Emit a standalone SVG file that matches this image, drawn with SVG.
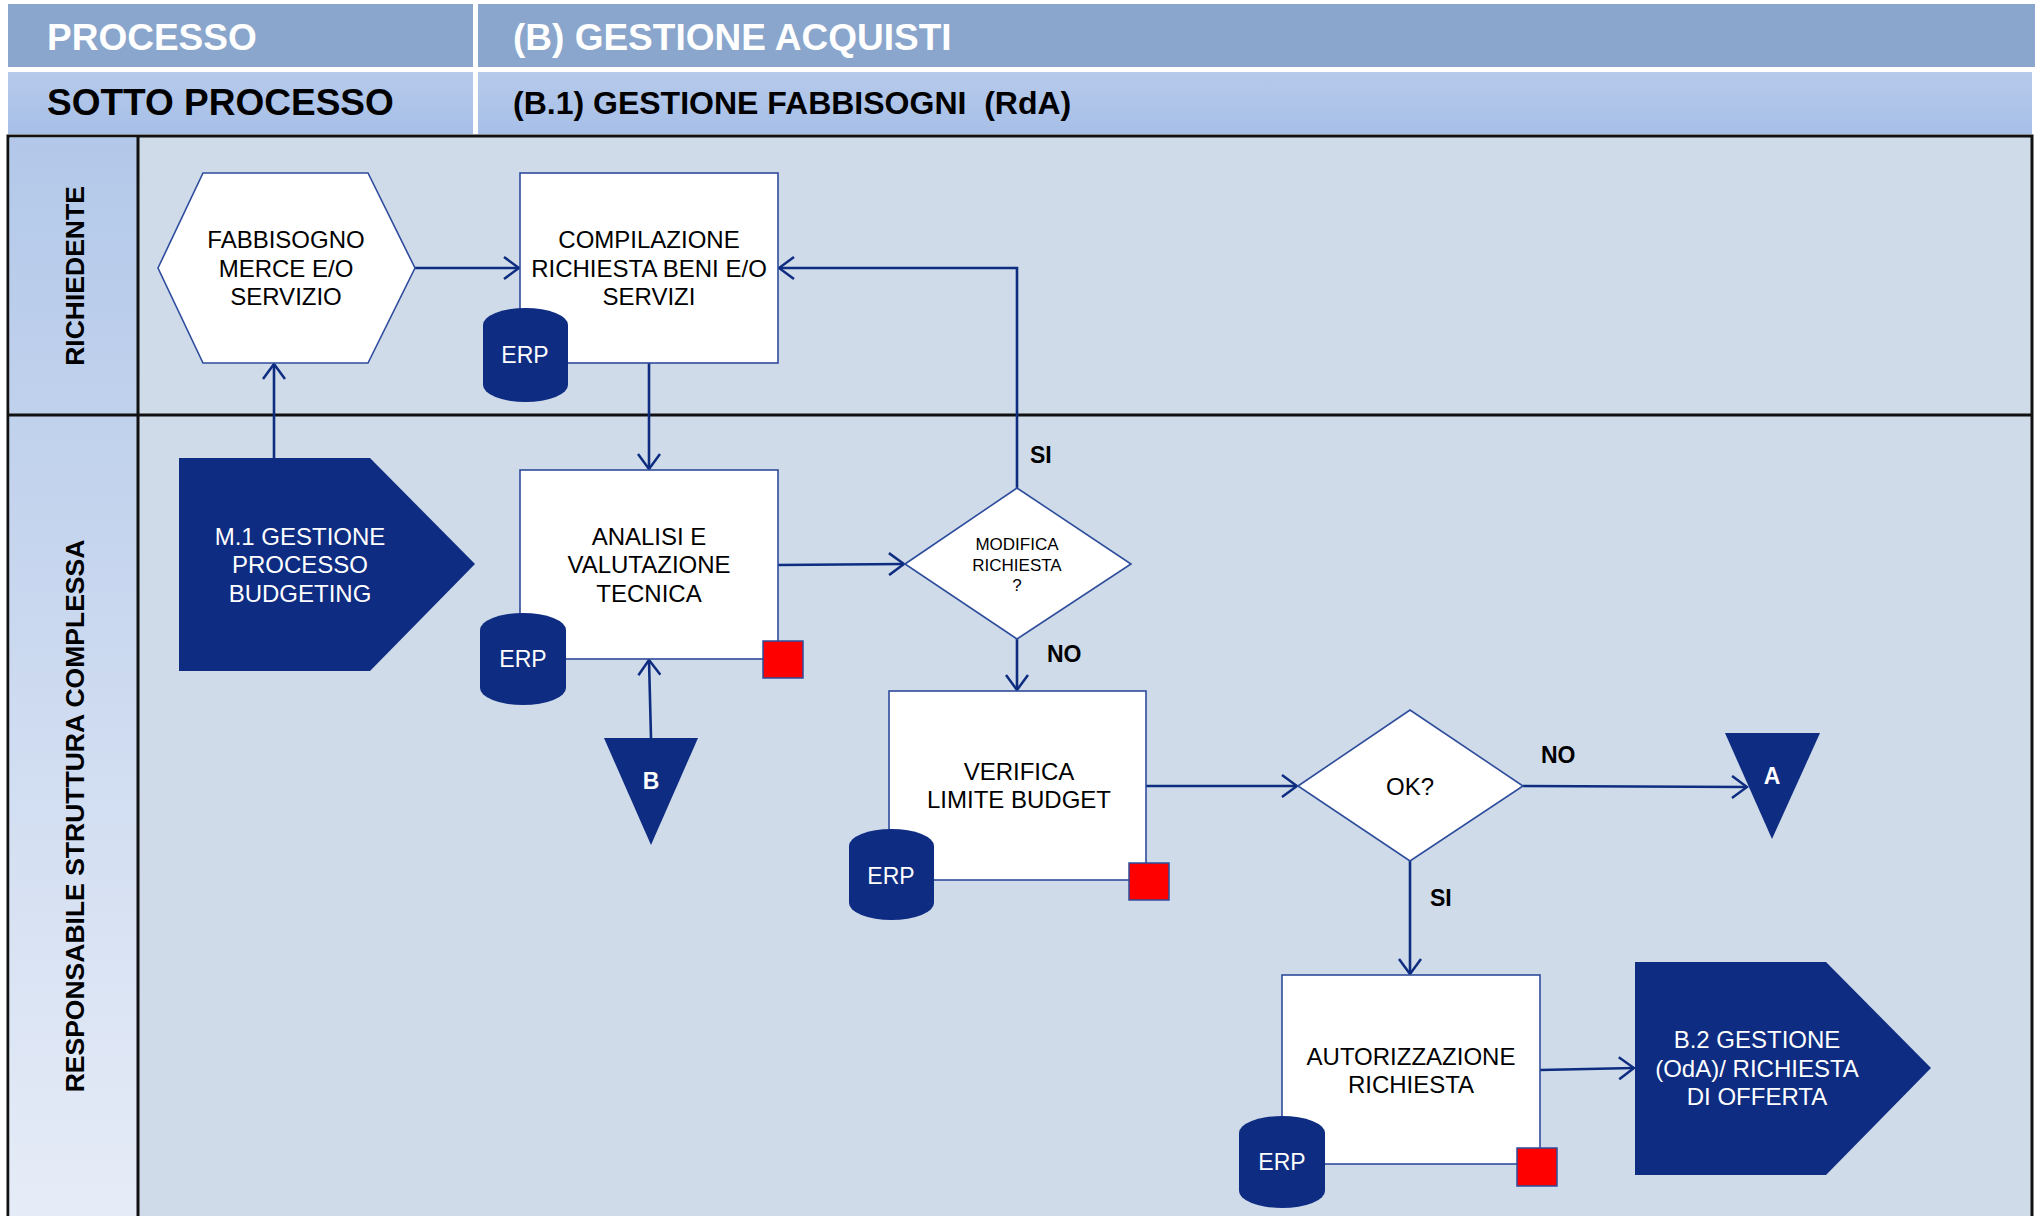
<svg xmlns="http://www.w3.org/2000/svg" width="2035" height="1216" viewBox="0 0 2035 1216">
<defs>
<linearGradient id="gRow2" x1="0" y1="0" x2="0" y2="1"><stop offset="0" stop-color="#B6CAEA"/><stop offset="1" stop-color="#A7BFE8"/></linearGradient>
<linearGradient id="gLane" x1="0" y1="0" x2="0" y2="1"><stop offset="0" stop-color="#B3C8E9"/><stop offset="1" stop-color="#E6ECF7"/></linearGradient>
<marker id="arr" markerUnits="userSpaceOnUse" markerWidth="18" markerHeight="24" viewBox="0 0 18 24" refX="16" refY="12" orient="auto"><path d="M1,1 L16,12 L1,23" fill="none" stroke="#0E2D80" stroke-width="2.5"/></marker>
</defs>
<style>
.box{fill:#fff;stroke:#2E4C9C;stroke-width:1.6}
.navy{fill:#0E2C82}
.red{fill:#FF0000;stroke:#2E4C9C;stroke-width:1.5}
.t{font-family:"Liberation Sans",Arial,sans-serif;font-size:24px;fill:#000;text-anchor:middle}
.ts{font-family:"Liberation Sans",Arial,sans-serif;font-size:17px;fill:#000;text-anchor:middle}
.tw{font-family:"Liberation Sans",Arial,sans-serif;font-size:24px;fill:#fff;text-anchor:middle}
.tri{font-family:"Liberation Sans",Arial,sans-serif;font-size:23px;font-weight:bold;fill:#fff;text-anchor:middle}
.erp{font-family:"Liberation Sans",Arial,sans-serif;font-size:23px;fill:#fff;text-anchor:middle}
.lbl{font-family:"Liberation Sans",Arial,sans-serif;font-size:23px;font-weight:bold;fill:#000}
.lane{font-family:"Liberation Sans",Arial,sans-serif;font-size:26.5px;font-weight:bold;fill:#000;text-anchor:middle}
.hd{font-family:"Liberation Sans",Arial,sans-serif;font-weight:bold}
.conn{fill:none;stroke:#0E2D80;stroke-width:2.6;marker-end:url(#arr)}
</style>
<rect width="2035" height="1216" fill="#ffffff"/>
<g id="header">
<rect x="8" y="4" width="2027" height="63" fill="#8AA6CC"/>
<rect x="8" y="72" width="2024" height="62" fill="url(#gRow2)"/>
<rect x="473" y="4" width="5" height="130" fill="#ffffff"/>
<text class="hd" x="47" y="50" style="font-size:37px" fill="#ffffff">PROCESSO</text>
<text class="hd" x="513" y="50" style="font-size:37px" fill="#ffffff">(B) GESTIONE ACQUISTI</text>
<text class="hd" x="47" y="115" style="font-size:37px" fill="#000000">SOTTO PROCESSO</text>
<text class="hd" x="513" y="114" style="font-size:32px" fill="#000000" xml:space="preserve">(B.1) GESTIONE FABBISOGNI  (RdA)</text>
</g>
<g id="lanes">
<rect x="8" y="136" width="2024" height="1082" fill="#CFDBE9" stroke="#111" stroke-width="3"/>
<rect x="9.5" y="137.5" width="128" height="1080" fill="url(#gLane)"/>
<line x1="138" y1="136" x2="138" y2="1216" stroke="#111" stroke-width="3"/>
<line x1="8" y1="415" x2="2032" y2="415" stroke="#111" stroke-width="3"/>
<text class="lane" transform="translate(84,276) rotate(-90)">RICHIEDENTE</text>
<text class="lane" transform="translate(84,816) rotate(-90)">RESPONSABILE STRUTTURA COMPLESSA</text>
</g>
<g id="connectors">
<path class="conn" d="M415,268 L519,268"/>
<path class="conn" d="M1017,488 L1017,268 L779,268"/>
<path class="conn" d="M649,363 L649,469"/>
<path class="conn" d="M274,458 L274,364"/>
<path class="conn" d="M778,565 L904,564"/>
<path class="conn" d="M651,738 L649,660"/>
<path class="conn" d="M1017,639 L1017,690"/>
<path class="conn" d="M1146,786 L1297,786"/>
<path class="conn" d="M1523,786 L1747,787"/>
<path class="conn" d="M1410,861 L1410,974"/>
<path class="conn" d="M1540,1070 L1634,1068"/>
<text class="lbl" x="1030" y="463">SI</text>
<text class="lbl" x="1047" y="662">NO</text>
<text class="lbl" x="1541" y="763">NO</text>
<text class="lbl" x="1430" y="906">SI</text>
</g>
<g id="fabbisogno">
<polygon class="box" points="158,268 203,173 368,173 415,268 368,363 203,363"/>
<text class="t" x="286" y="248">FABBISOGNO</text>
<text class="t" x="286" y="277">MERCE E/O</text>
<text class="t" x="286" y="305">SERVIZIO</text>
</g>
<g id="compilazione">
<rect class="box" x="520" y="173" width="258" height="190"/>
<text class="t" x="649" y="248">COMPILAZIONE</text>
<text class="t" x="649" y="277">RICHIESTA BENI E/O</text>
<text class="t" x="649" y="305">SERVIZI</text>
<path class="navy" d="M483,325 A42.5,17 0 0 1 568,325 L568,385 A42.5,17 0 0 1 483,385 Z"/>
<text class="erp" x="525" y="363">ERP</text>
</g>
<g id="m1">
<polygon class="navy" points="179,458 370,458 475,564 370,671 179,671"/>
<text class="tw" x="300" y="545">M.1 GESTIONE</text>
<text class="tw" x="300" y="573">PROCESSO</text>
<text class="tw" x="300" y="602">BUDGETING</text>
</g>
<g id="analisi">
<rect class="box" x="520" y="470" width="258" height="189"/>
<text class="t" x="649" y="545">ANALISI E</text>
<text class="t" x="649" y="573">VALUTAZIONE</text>
<text class="t" x="649" y="602">TECNICA</text>
<path class="navy" d="M480,630 A43,17 0 0 1 566,630 L566,688 A43,17 0 0 1 480,688 Z"/>
<text class="erp" x="523" y="667">ERP</text>
<rect class="red" x="763" y="641" width="40" height="37"/>
</g>
<g id="connB">
<polygon class="navy" points="604,738 698,738 651,845"/>
<text class="tri" x="651" y="789">B</text>
</g>
<g id="modifica">
<polygon class="box" points="905,564 1017,488 1131,564 1017,639"/>
<text class="ts" x="1017" y="550">MODIFICA</text>
<text class="ts" x="1017" y="571">RICHIESTA</text>
<text class="ts" x="1017" y="591">?</text>
</g>
<g id="verifica">
<rect class="box" x="889" y="691" width="257" height="189"/>
<text class="t" x="1019" y="780">VERIFICA</text>
<text class="t" x="1019" y="808">LIMITE BUDGET</text>
<path class="navy" d="M849,846 A42.5,17 0 0 1 934,846 L934,903 A42.5,17 0 0 1 849,903 Z"/>
<text class="erp" x="891" y="884">ERP</text>
<rect class="red" x="1129" y="863" width="40" height="37"/>
</g>
<g id="ok">
<polygon class="box" points="1298,786 1410,710 1523,786 1410,861"/>
<text class="t" x="1410" y="795">OK?</text>
</g>
<g id="connA">
<polygon class="navy" points="1725,733 1820,733 1772,839"/>
<text class="tri" x="1772" y="784">A</text>
</g>
<g id="autorizzazione">
<rect class="box" x="1282" y="975" width="258" height="189"/>
<text class="t" x="1411" y="1065">AUTORIZZAZIONE</text>
<text class="t" x="1411" y="1093">RICHIESTA</text>
<path class="navy" d="M1239,1133 A43,17 0 0 1 1325,1133 L1325,1191 A43,17 0 0 1 1239,1191 Z"/>
<text class="erp" x="1282" y="1170">ERP</text>
<rect class="red" x="1517" y="1148" width="40" height="38"/>
</g>
<g id="b2">
<polygon class="navy" points="1635,962 1826,962 1931,1068 1826,1175 1635,1175"/>
<text class="tw" x="1757" y="1048">B.2 GESTIONE</text>
<text class="tw" x="1757" y="1077">(OdA)/ RICHIESTA</text>
<text class="tw" x="1757" y="1105">DI OFFERTA</text>
</g>
</svg>
